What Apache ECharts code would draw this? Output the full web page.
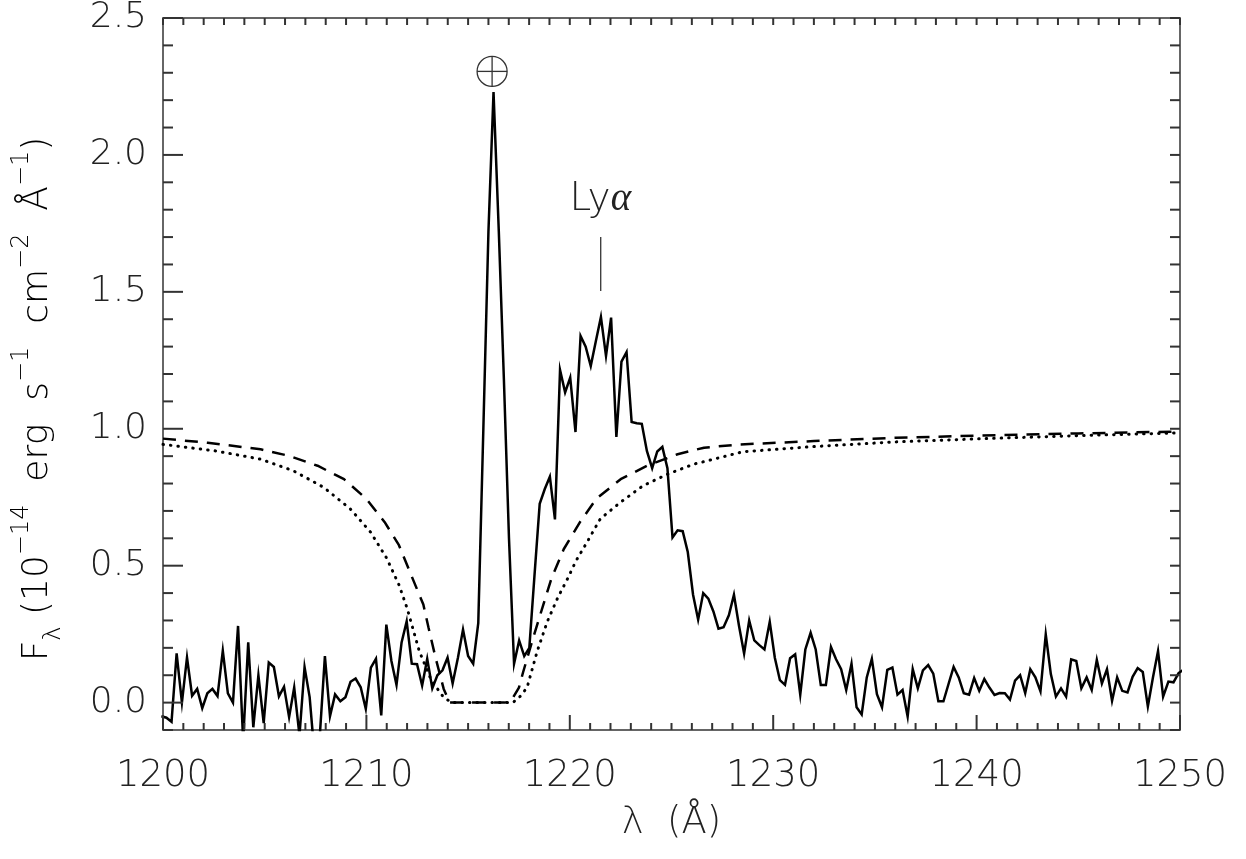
<!DOCTYPE html>
<html>
<head>
<meta charset="utf-8">
<script src="https://cdn.jsdelivr.net/npm/echarts@6/dist/echarts.min.js"></script>
<style>
  html, body { margin: 0; padding: 0; background: #fff; }
  #chart { width: 1246px; height: 859px; }
</style>
</head>
<body>
<div id="chart"></div>
<script>
// observed spectrum: wavelength (Å) and flux (1e-14 erg/s/cm2/Å)
var wavelength = [
  1199.92, 1200.17, 1200.42, 1200.67, 1200.93, 1201.18, 1201.43, 1201.68, 1201.93, 1202.18,
  1202.43, 1202.68, 1202.94, 1203.19, 1203.44, 1203.69, 1203.94, 1204.19, 1204.44, 1204.69,
  1204.95, 1205.20, 1205.45, 1205.70, 1205.95, 1206.20, 1206.45, 1206.71, 1206.96, 1207.21,
  1207.46, 1207.71, 1207.96, 1208.21, 1208.46, 1208.72, 1208.97, 1209.22, 1209.47, 1209.72,
  1209.97, 1210.22, 1210.47, 1210.73, 1210.98, 1211.23, 1211.48, 1211.73, 1211.98, 1212.23,
  1212.49, 1212.74, 1212.99, 1213.24, 1213.49, 1213.74, 1213.99, 1214.24, 1214.50, 1214.75,
  1215.00, 1215.25, 1215.50, 1215.75, 1216.00, 1216.25, 1216.51, 1216.76, 1217.01, 1217.26,
  1217.51, 1217.76, 1218.01, 1218.26, 1218.52, 1218.77, 1219.02, 1219.27, 1219.52, 1219.77,
  1220.02, 1220.28, 1220.53, 1220.78, 1221.03, 1221.28, 1221.53, 1221.78, 1222.03, 1222.29,
  1222.54, 1222.79, 1223.04, 1223.29, 1223.54, 1223.79, 1224.05, 1224.30, 1224.55, 1224.80,
  1225.05, 1225.30, 1225.55, 1225.80, 1226.06, 1226.31, 1226.56, 1226.81, 1227.06, 1227.31,
  1227.56, 1227.82, 1228.07, 1228.32, 1228.57, 1228.82, 1229.07, 1229.32, 1229.57, 1229.83,
  1230.08, 1230.33, 1230.58, 1230.83, 1231.08, 1231.33, 1231.58, 1231.84, 1232.09, 1232.34,
  1232.59, 1232.84, 1233.09, 1233.34, 1233.59, 1233.85, 1234.10, 1234.35, 1234.60, 1234.85,
  1235.10, 1235.35, 1235.61, 1235.86, 1236.11, 1236.36, 1236.61, 1236.86, 1237.11, 1237.36,
  1237.62, 1237.87, 1238.12, 1238.37, 1238.62, 1238.87, 1239.12, 1239.37, 1239.63, 1239.88,
  1240.13, 1240.38, 1240.63, 1240.88, 1241.13, 1241.39, 1241.64, 1241.89, 1242.14, 1242.39,
  1242.64, 1242.89, 1243.14, 1243.40, 1243.65, 1243.90, 1244.15, 1244.40, 1244.65, 1244.90,
  1245.15, 1245.41, 1245.66, 1245.91, 1246.16, 1246.41, 1246.66, 1246.91, 1247.16, 1247.42,
  1247.67, 1247.92, 1248.17, 1248.42, 1248.67, 1248.92, 1249.17, 1249.43, 1249.68, 1249.93,
  1250.18
];
var flux = [
  -0.05, -0.055, -0.07, 0.18, 0.0, 0.165, 0.025, 0.05, -0.02, 0.034,
  0.05, 0.024, 0.19, 0.034, 0.0, 0.28, -0.14, 0.22, -0.09, 0.1,
  -0.075, 0.146, 0.13, 0.023, 0.058, -0.053, 0.055, -0.12, 0.13, 0.02,
  -0.2, -0.12, 0.17, -0.05, 0.03, 0.005, 0.02, 0.076, 0.088, 0.056,
  -0.023, 0.128, 0.16, -0.047, 0.285, 0.152, 0.065, 0.22, 0.297, 0.142,
  0.14, 0.062, 0.16, 0.052, 0.1, 0.118, 0.164, 0.07, 0.164, 0.267,
  0.17, 0.142, 0.29, 1.0, 1.72, 2.23, 1.72, 1.18, 0.6, 0.142,
  0.227, 0.17, 0.2, 0.46, 0.726, 0.78, 0.825, 0.669, 1.215, 1.133,
  1.187, 0.988, 1.339, 1.30, 1.229, 1.32, 1.408, 1.266, 1.406, 0.97,
  1.245, 1.28, 1.025, 1.02, 1.018, 0.919, 0.856, 0.917, 0.934, 0.856,
  0.603, 0.629, 0.626, 0.55, 0.394, 0.303, 0.40, 0.38, 0.333, 0.27,
  0.275, 0.319, 0.394, 0.28, 0.179, 0.30, 0.227, 0.21, 0.194, 0.295,
  0.164, 0.082, 0.065, 0.162, 0.176, 0.029, 0.194, 0.255, 0.194, 0.064,
  0.064, 0.203, 0.158, 0.122, 0.046, 0.142, -0.017, -0.043, 0.092, 0.16,
  0.031, -0.017, 0.12, 0.128, 0.029, 0.046, -0.051, 0.122, 0.052, 0.118,
  0.137, 0.106, 0.005, 0.005, 0.068, 0.13, 0.092, 0.034, 0.029, 0.09,
  0.043, 0.086, 0.055, 0.028, 0.035, 0.034, 0.011, 0.08, 0.1, 0.035,
  0.122, 0.092, 0.041, 0.249, 0.104, 0.022, 0.052, 0.022, 0.158, 0.152,
  0.052, 0.092, 0.046, 0.156, 0.07, 0.122, 0.007, 0.092, 0.043, 0.037,
  0.094, 0.126, 0.112, -0.014, 0.092, 0.188, 0.022, 0.077, 0.074, 0.108,
  0.12
];

// absorption profiles (dashed and dotted)
var dashedLambda = [1200.0, 1202.2, 1204.8, 1206.2, 1207.6, 1208.9, 1210.0, 1210.9, 1211.6, 1212.2,
  1212.8, 1213.05, 1213.4, 1213.8, 1214.1, 1215.5, 1216.8, 1217.1, 1217.5, 1217.7,
  1218.2, 1218.7, 1219.1, 1219.7, 1220.5, 1221.3, 1222.5, 1223.8, 1225.3, 1226.6,
  1228.4, 1232, 1236, 1240, 1245, 1250];
var dashedFlux = [0.964, 0.949, 0.925, 0.901, 0.865, 0.816, 0.744, 0.659, 0.575, 0.466,
  0.358, 0.275, 0.164, 0.05, 0.0, 0.0, 0.0, 0.005, 0.055, 0.11,
  0.237, 0.358, 0.454, 0.56, 0.659, 0.744, 0.816, 0.865, 0.907, 0.931,
  0.943, 0.955, 0.967, 0.975, 0.983, 0.99];
var dottedLambda = [1200.0, 1202.6, 1204.8, 1206.4, 1207.9, 1209.2, 1210.2, 1211.0, 1211.6, 1212.0,
  1212.6, 1213.2, 1213.8, 1214.2, 1215.5, 1217.2, 1217.55, 1217.9, 1218.4, 1218.9,
  1219.4, 1219.9, 1220.3, 1220.8, 1221.5, 1222.5, 1223.6, 1224.8, 1226.1, 1227.4,
  1228.5, 1232, 1236, 1240, 1245, 1250];
var dottedFlux = [0.943, 0.919, 0.889, 0.847, 0.786, 0.708, 0.623, 0.527, 0.43, 0.345,
  0.188, 0.08, 0.019, 0.0, 0.0, 0.0, 0.022, 0.055, 0.188, 0.297,
  0.382, 0.454, 0.517, 0.58, 0.671, 0.732, 0.792, 0.834, 0.871, 0.895,
  0.916, 0.935, 0.952, 0.963, 0.975, 0.985];

// tick labels and annotations
var xLabels = [1200, 1210, 1220, 1230, 1240, 1250];
var yLabels = [0, 0.5, 1.0, 1.5, 2.0, 2.5];
var xRange = [1200, 1250];
var yRange = [-0.1, 2.5];
var earthMark = [1216.18, 2.305];          // geocoronal line symbol
var lyaMark = [1221.52, 1.503, 1.70];      // lambda, bottom, top of marker
var lyaText = [1221.5, 1.835];

var font = 'DejaVu Sans';
var ink = '#222';
var axisInk = '#333';

function pairs(xs, ys) {
  return xs.map(function (x, i) { return [x, ys[i]]; });
}

var chart = echarts.init(document.getElementById('chart'));

var baseX = {
  type: 'value', min: xRange[0], max: xRange[1], interval: 10,
  splitLine: { show: false },
  axisTick: { show: false },
  axisLine: { show: true, onZero: false, lineStyle: { color: axisInk, width: 1.5 } }
};
var baseY = {
  type: 'value', min: yRange[0], max: yRange[1], interval: 0.1,
  splitLine: { show: false },
  axisTick: { show: false },
  axisLine: { show: true, onZero: false, lineStyle: { color: axisInk, width: 1.5 } }
};

// inward ticks on all four sides, placed through the axis scales
function renderTicks(api) {
  var kids = [];
  function seg(x1, y1, x2, y2) {
    kids.push({
      type: 'line', z2: 10,
      shape: { x1: x1, y1: y1, x2: x2, y2: y2 },
      style: { stroke: axisInk, lineWidth: 2, fill: null }
    });
  }
  var corner = api.coord([xRange[0], yRange[0]]);
  var far = api.coord([xRange[1], yRange[1]]);
  var xl = corner[0], yb = corner[1], xr = far[0], yt = far[1];
  for (var w = xRange[0]; w <= xRange[1]; w++) {
    var x = api.coord([w, 0])[0];
    var major = xLabels.indexOf(w) >= 0;
    seg(x, yb, x, yb - (major ? 15 : 7));
    seg(x, yt, x, yt + 7);
  }
  for (var k = -1; k <= 25; k++) {
    var y = api.coord([xRange[0], k / 10])[1];
    var isMajor = k % 5 === 0;
    seg(xl, y, xl + (isMajor ? 20 : 10), y);
    seg(xr, y, xr - 10, y);
  }
  return kids;
}

chart.setOption({
  animation: false,
  grid: { left: 163, top: 12, right: 66, bottom: 129, containLabel: false },
  xAxis: [
    Object.assign({}, baseX, {
      position: 'bottom',
      name: 'λ  (Å)', nameLocation: 'middle', nameGap: 75,
      nameTextStyle: { fontFamily: font, fontWeight: 200, fontSize: 37, color: ink },
      axisLabel: {
        margin: 28, fontFamily: font, fontWeight: 200, fontSize: 37, color: ink,
        formatter: function (v) { return String(v); }
      }
    }),
    Object.assign({}, baseX, {
      position: 'top',
      axisLabel: { show: false }
    })
  ],
  yAxis: [
    Object.assign({}, baseY, {
      position: 'left',
      axisLabel: {
        customValues: yLabels, margin: 16,
        fontFamily: font, fontWeight: 200, fontSize: 36, color: ink,
        formatter: function (v) { return v.toFixed(1); }
      }
    }),
    Object.assign({}, baseY, {
      position: 'right',
      axisLabel: { show: false }
    })
  ],
  graphic: [{
    type: 'text',
    x: 38, y: 399,
    rotation: Math.PI / 2,
    style: {
      text: '{n|F}{sub|λ}{n| (10}{sup|−14}{n|  erg  s}{sup|−1}{n|  cm}{sup|−2}{n|  Å}{sup|−1}{n|)}',
      align: 'center', verticalAlign: 'middle',
      rich: {
        n: { fontFamily: font, fontWeight: 200, fontSize: 36, color: ink, lineHeight: 56 },
        sup: { fontFamily: font, fontWeight: 200, fontSize: 24, color: ink, lineHeight: 26, verticalAlign: 'top' },
        sub: { fontFamily: font, fontWeight: 200, fontSize: 24, color: ink, lineHeight: 20, verticalAlign: 'bottom' }
      }
    }
  }],
  series: [
    {
      type: 'line', name: 'dashed', data: pairs(dashedLambda, dashedFlux),
      showSymbol: false, clip: true,
      lineStyle: { color: '#000', width: 2.5, type: [13, 9] }
    },
    {
      type: 'line', name: 'dotted', data: pairs(dottedLambda, dottedFlux),
      showSymbol: false, clip: true,
      lineStyle: { color: '#000', width: 3, type: [0.5, 7], cap: 'round' }
    },
    {
      type: 'line', name: 'spectrum', data: pairs(wavelength, flux),
      showSymbol: false, clip: true, z: 5,
      lineStyle: { color: '#000', width: 2.5, join: 'miter' }
    },
    {
      type: 'custom', name: 'annotations', clip: false, z: 6,
      data: [[xRange[0], yRange[0]]],
      renderItem: function (params, api) {
        var c = api.coord(earthMark);
        var r = 15;
        var t0 = api.coord([lyaMark[0], lyaMark[1]]);
        var t1 = api.coord([lyaMark[0], lyaMark[2]]);
        var tp = api.coord(lyaText);
        var st = { stroke: '#333', lineWidth: 1.3, fill: null };
        var kids = renderTicks(api);
        kids.push(
          { type: 'circle', shape: { cx: c[0], cy: c[1], r: r }, style: st },
          { type: 'line', shape: { x1: c[0] - r, y1: c[1], x2: c[0] + r, y2: c[1] }, style: st },
          { type: 'line', shape: { x1: c[0], y1: c[1] - r, x2: c[0], y2: c[1] + r }, style: st },
          { type: 'line', shape: { x1: t0[0], y1: t0[1], x2: t1[0], y2: t1[1] }, style: st },
          {
            type: 'text', x: tp[0], y: tp[1],
            style: {
              text: 'Ly{a|α}', align: 'center', verticalAlign: 'middle',
              fontFamily: font, fontWeight: 200, fontSize: 39, fill: ink,
              rich: { a: { fontFamily: 'DejaVu Sans ExtraLight', fontWeight: 200, fontStyle: 'italic', fontSize: 39, color: ink } }
            }
          }
        );
        return { type: 'group', children: kids };
      }
    }
  ]
});
</script>
</body>
</html>
